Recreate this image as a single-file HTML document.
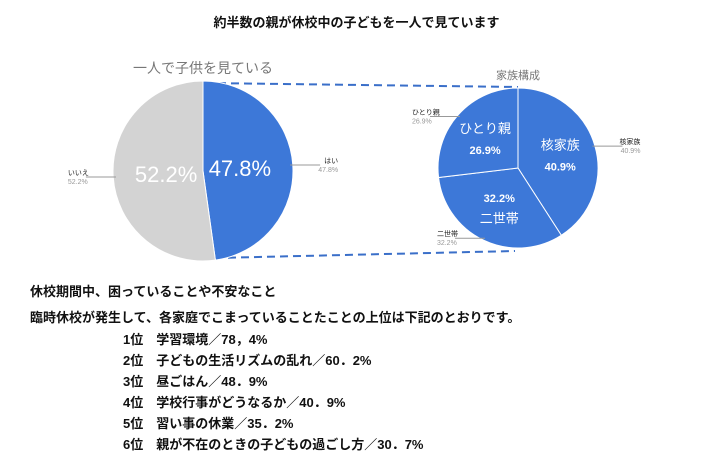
<!DOCTYPE html>
<html><head><meta charset="utf-8">
<style>
html,body{margin:0;padding:0;background:#fff;}
body{width:713px;height:453px;position:relative;overflow:hidden;font-family:"Liberation Sans","Noto Sans CJK JP",sans-serif;}
.t{position:absolute;white-space:nowrap;color:#111;}
</style></head><body>
<div class="t" style="left:0;width:713px;text-align:center;top:12px;font-size:13px;font-weight:bold;">約半数の親が休校中の子どもを一人で見ています</div>
<svg width="713" height="280" style="position:absolute;left:0;top:0">
<text x="203" y="73" text-anchor="middle" font-size="14" fill="#777">一人で子供を見ている</text>
<text x="518" y="79" text-anchor="middle" font-size="11" fill="#777">家族構成</text>
<line x1="205" y1="83" x2="518" y2="87" stroke="#3a6fc9" stroke-width="2" stroke-dasharray="8,5"/>
<line x1="215" y1="258" x2="515" y2="251" stroke="#3a6fc9" stroke-width="2" stroke-dasharray="8,5"/>
<g id="left"></g><g id="right"></g>
</svg>
<div class="t" style="left:30px;top:281px;font-size:13px;font-weight:bold;">休校期間中、困っていることや不安なこと</div>
<div class="t" style="left:30px;top:307px;font-size:13px;font-weight:bold;">臨時休校が発生して、各家庭でこまっていることたことの上位は下記のとおりです。</div>
<div>
<div class="t" style="left:123px;top:329px;font-size:13px;font-weight:bold;">1位　学習環境／78，4%</div>
<div class="t" style="left:123px;top:350px;font-size:13px;font-weight:bold;">2位　子どもの生活リズムの乱れ／60．2%</div>
<div class="t" style="left:123px;top:371px;font-size:13px;font-weight:bold;">3位　昼ごはん／48．9%</div>
<div class="t" style="left:123px;top:392px;font-size:13px;font-weight:bold;">4位　学校行事がどうなるか／40．9%</div>
<div class="t" style="left:123px;top:413px;font-size:13px;font-weight:bold;">5位　習い事の休業／35．2%</div>
<div class="t" style="left:123px;top:434px;font-size:13px;font-weight:bold;">6位　親が不在のときの子どもの過ごし方／30．7%</div>
</div>
<script>
const leftCategories = ["はい", "いいえ"];
const leftValues = [47.8, 52.2];
const rightCategories = ["核家族", "二世帯", "ひとり親"];
const rightValues = [40.9, 32.2, 26.9];
const NS = "http://www.w3.org/2000/svg";
function mk(tag, attrs, parent, txt){const e=document.createElementNS(NS,tag);for(const k in attrs)e.setAttribute(k,attrs[k]);if(txt!==undefined)e.textContent=txt;parent.appendChild(e);return e;}
function pt(cx,cy,r,frac){const a=frac*2*Math.PI;return [cx+r*Math.sin(a),cy-r*Math.cos(a)];}
function pie(g,cx,cy,r,cats,vals,colors,inner,outer){
  const tot=vals.reduce((a,b)=>a+b,0);let acc=0;
  vals.forEach((v,i)=>{
    const f0=acc/tot,f1=(acc+v)/tot;acc+=v;
    const p0=pt(cx,cy,r,f0),p1=pt(cx,cy,r,f1);
    const p=mk("path",{d:`M${cx},${cy}L${p0[0]},${p0[1]}A${r},${r} 0 ${f1-f0>0.5?1:0} 1 ${p1[0]},${p1[1]}Z`,fill:colors[i],stroke:"#fff","stroke-width":1},g);
    
    
    const mid=(f0+f1)/2;inner(g,cx,cy,r,mid,cats[i],v,i);outer(g,cx,cy,r,mid,cats[i],v,i);
  });
}
function outerLabel(g,cx,cy,r,mid,cat,v){
  const e=pt(cx,cy,r*0.97,mid);const right=e[0]>cx;const x2=right?e[0]+30:e[0]-30;
  const l=mk("line",{x1:e[0],y1:e[1],x2:x2,y2:e[1],stroke:"#999","stroke-width":1},g);
  
  
  const anc=right?"end":"start";const tx=right?x2+18:x2-18;
  const t1=mk("text",{x:tx,y:e[1]-2,"font-size":7,fill:"#222","text-anchor":anc},g,cat);
  
  
  const t2=mk("text",{x:tx,y:e[1]+7,"font-size":7,fill:"#999","text-anchor":anc},g,v.toFixed(1)+"%");
  
  
}
pie(document.getElementById("left"),203,171,90,leftCategories,leftValues,["#3d78d8","#d3d3d3"],
 (g,cx,cy,r,mid,cat,v)=>{const p=pt(cx,cy,r*0.5,mid);const t=mk("text",{x:p[0]+(p[0]>cx?-8:8),y:p[1]+8,"font-size":22,fill:"#fff","text-anchor":"middle"},g,v.toFixed(1)+"%");
  
  },
 outerLabel);
pie(document.getElementById("right"),518,168,80,rightCategories,rightValues,["#3d78d8","#3d78d8","#3d78d8"],
 (g,cx,cy,r,mid,cat,v,i)=>{const p=pt(cx,cy,r*0.55,mid);const valFirst=i===1;
  const a=mk("text",{x:p[0],y:p[1]+(valFirst?15:-6),"font-size":13,fill:"#fff","text-anchor":"middle"},g,cat);
  
  
  const b=mk("text",{x:p[0],y:p[1]+(valFirst?-6:15),"font-size":11,"font-weight":"bold",fill:"#fff","text-anchor":"middle"},g,v.toFixed(1)+"%");
  
  },
 outerLabel);
</script>
</body></html>
